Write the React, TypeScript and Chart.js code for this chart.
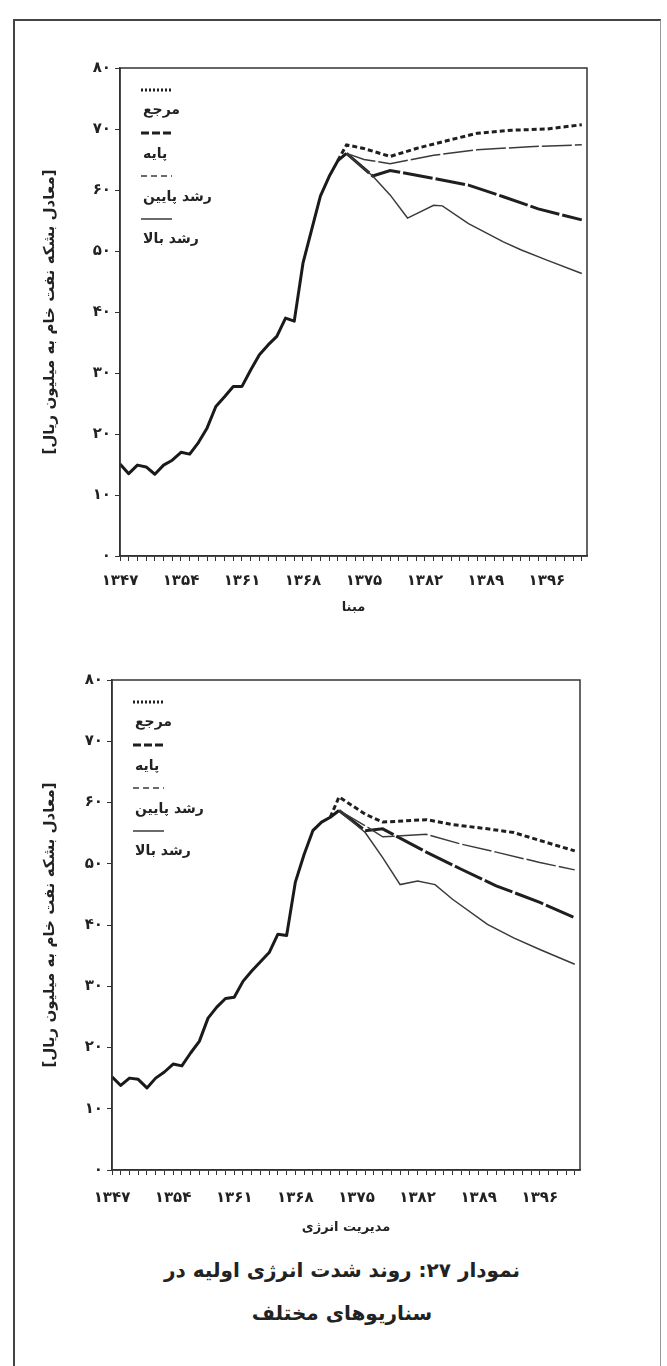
import React, { useEffect, useRef } from 'react';
import { Chart, registerables } from 'chart.js';

Chart.register(...registerables);

// ---------------- data ----------------
const historyYears = [1347, 1348, 1349, 1350, 1351, 1352, 1353, 1354, 1355, 1356, 1357, 1358, 1359, 1360, 1361, 1362, 1363, 1364, 1365, 1366, 1367, 1368, 1369, 1370, 1371, 1372, 1373];

// chart 1: مبنا
const topHistory = [15.1, 13.5, 14.9, 14.6, 13.4, 14.9, 15.7, 17.0, 16.7, 18.6, 21.0, 24.5, 26.1, 27.8, 27.8, 30.5, 33.0, 34.6, 36.0, 39.0, 38.5, 48.0, 53.5, 59.0, 62.2, 64.8, 66.0];
const topRefYears = [1372, 1373, 1375, 1378, 1381, 1384, 1388, 1392, 1396, 1400];
const topRef = [64.8, 67.4, 66.8, 65.5, 66.8, 67.9, 69.3, 69.8, 70.0, 70.7];
const topLowYears = [1373, 1375, 1378, 1383, 1388, 1394, 1400];
const topLow = [66.0, 65.0, 64.3, 65.7, 66.6, 67.1, 67.4];
const topBaseYears = [1373, 1376, 1378, 1383, 1387, 1391, 1395, 1400];
const topBase = [66.0, 62.3, 63.2, 61.9, 60.8, 58.9, 56.9, 55.1];
const topHighYears = [1373, 1376, 1378, 1380, 1383, 1384, 1387, 1391, 1393, 1396, 1400];
const topHigh = [66.0, 62.3, 59.2, 55.4, 57.5, 57.4, 54.5, 51.5, 50.2, 48.5, 46.3];

// chart 2: مدیریت انرژی
const bottomHistory = [15.2, 13.8, 15.0, 14.8, 13.4, 15.0, 16.0, 17.3, 17.0, 19.1, 21.0, 24.8, 26.6, 28.0, 28.2, 30.8, 32.5, 34.0, 35.5, 38.5, 38.3, 47.0, 51.5, 55.4, 56.8, 57.6, 58.7];
const bottomRefYears = [1372, 1373, 1376, 1378, 1383, 1386, 1390, 1393, 1396, 1400];
const bottomRef = [57.6, 60.9, 58.1, 56.8, 57.2, 56.4, 55.7, 55.1, 53.8, 52.1];
const bottomLowYears = [1373, 1376, 1378, 1383, 1387, 1391, 1396, 1400];
const bottomLow = [58.7, 56.2, 54.4, 54.8, 53.2, 51.9, 50.2, 49.0];
const bottomBaseYears = [1373, 1376, 1378, 1383, 1387, 1391, 1396, 1400];
const bottomBase = [58.7, 55.4, 55.7, 51.9, 49.1, 46.4, 43.7, 41.2];
const bottomHighYears = [1373, 1376, 1378, 1380, 1382, 1384, 1386, 1390, 1393, 1396, 1400];
const bottomHigh = [58.7, 55.1, 51.0, 46.6, 47.2, 46.6, 44.2, 40.1, 37.9, 36.0, 33.6];

const xLabelYears = [1347, 1354, 1361, 1368, 1375, 1382, 1389, 1396];
const xFirstYear = 1347;
const xLastYear = 1400;
const legendLabels = ['مرجع', 'پایه', 'رشد پایین', 'رشد بالا'];
const yTitle = '[معادل بشکه نفت خام به میلیون ریال]';
const topXTitle = 'مبنا';
const bottomXTitle = 'مدیریت انرژی';
const captionLine1 = 'نمودار ۲۷: روند شدت انرژی اولیه در';
const captionLine2 = 'سناریوهای مختلف';

// ---------------- helpers ----------------
const FA = '۰۱۲۳۴۵۶۷۸۹';
const fa = (v: number | string) => String(v).replace(/[0-9]/g, (d) => FA[+d]);
const pts = (xs: number[], ys: number[]) => xs.map((x, i) => ({ x, y: ys[i] }));
const FONT = '"DejaVu Sans", sans-serif';
const INK = '#222';

const framePlugin = {
  id: 'frame',
  afterDraw(chart: any) {
    const { ctx, chartArea: a } = chart;
    ctx.save();
    ctx.strokeStyle = '#333';
    ctx.lineWidth = 1.5;
    ctx.strokeRect(a.left, a.top, a.right - a.left, a.bottom - a.top);
    ctx.restore();
  },
};

const legendPlugin = {
  id: 'faLegend',
  afterDraw(chart: any, _args: any, opts: any) {
    const { ctx, chartArea } = chart;
    const x0 = chartArea.left + opts.dx;
    ctx.save();
    opts.items.forEach((it: any, i: number) => {
      const ds = chart.data.datasets.find((d: any) => d.label === it.label);
      const ys = chartArea.top + opts.sampleY[i];
      ctx.beginPath();
      ctx.setLineDash(it.dash || []);
      ctx.lineWidth = ds.borderWidth;
      ctx.strokeStyle = ds.borderColor;
      ctx.moveTo(x0, ys);
      ctx.lineTo(x0 + opts.sampleW, ys);
      ctx.stroke();
      ctx.setLineDash([]);
      ctx.font = `bold 14px ${FONT}`;
      ctx.fillStyle = INK;
      ctx.textAlign = 'left';
      ctx.textBaseline = 'middle';
      ctx.fillText(it.label, x0 + 2, chartArea.top + opts.textY[i]);
    });
    ctx.restore();
  },
};

type PanelProps = {
  top: number;
  height: number;
  plotTop: number;
  plotBottom: number;
  plotLeft: number;
  plotRight: number;
  xAxisH: number;
  xLabelPad: number;
  history: number[];
  refYears: number[]; refVals: number[];
  lowYears: number[]; lowVals: number[];
  baseYears: number[]; baseVals: number[];
  highYears: number[]; highVals: number[];
  xTitle: string;
};

function Panel(p: PanelProps) {
  const canvasRef = useRef<HTMLCanvasElement>(null);
  useEffect(() => {
    const W = 667;
    const tickFont = { family: FONT, size: 15, weight: 'bold' as const };
    const tickYears: number[] = [];
    for (let y = xFirstYear; y <= xLastYear; y++) tickYears.push(y);
    const chart = new Chart(canvasRef.current as HTMLCanvasElement, {
      type: 'line',
      data: {
        datasets: [
          { label: 'رشد بالا', data: pts(p.highYears, p.highVals), borderColor: '#3a3a3a', borderWidth: 1.5, pointRadius: 0 },
          { label: 'رشد پایین', data: pts(p.lowYears, p.lowVals), borderColor: '#3a3a3a', borderWidth: 1.5, borderDash: [30, 3], pointRadius: 0 },
          { label: 'پایه', data: pts(p.baseYears, p.baseVals), borderColor: '#1f1f1f', borderWidth: 3, borderDash: [30, 3], pointRadius: 0 },
          { label: 'مرجع', data: pts(p.refYears, p.refVals), borderColor: '#1f1f1f', borderWidth: 3, borderDash: [5, 3], pointRadius: 0 },
          { label: 'history', data: pts(historyYears, p.history), borderColor: '#1a1a1a', borderWidth: 3, pointRadius: 0, borderJoinStyle: 'round' },
        ],
      },
      options: {
        animation: false,
        responsive: false,
        devicePixelRatio: 1,
        layout: {
          padding: { left: 0, top: p.plotTop, right: W - p.plotRight, bottom: p.height - p.plotBottom - p.xAxisH },
        },
        plugins: {
          legend: { display: false },
          tooltip: { enabled: false },
          faLegend: {
            dx: 21,
            sampleW: 31,
            sampleY: [22, 65, 108, 151],
            textY: [42, 86, 129, 171],
            items: [
              { label: legendLabels[0], dash: [2, 2] },
              { label: legendLabels[1], dash: [8, 3] },
              { label: legendLabels[2], dash: [6, 4] },
              { label: legendLabels[3], dash: [] },
            ],
          },
        } as any,
        scales: {
          x: {
            type: 'linear',
            min: xFirstYear,
            max: xLastYear + 0.6,
            afterBuildTicks: (s: any) => { s.ticks = tickYears.map((v) => ({ value: v })); },
            afterFit: (s: any) => { s.height = p.xAxisH; },
            ticks: {
              autoSkip: false, maxRotation: 0, minRotation: 0, padding: p.xLabelPad,
              font: tickFont, color: INK,
              callback: (v: any) => (xLabelYears.includes(Number(v)) ? fa(v) : ''),
            },
            grid: { drawOnChartArea: false, drawTicks: true, tickLength: 5, color: '#333', lineWidth: 1 },
            border: { display: true, color: '#333', width: 1.5 },
            title: { display: true, text: p.xTitle, font: { family: FONT, size: 13, weight: 'bold' }, color: INK, padding: { top: 0, bottom: 4 } },
          },
          y: {
            min: 0,
            max: 80,
            afterFit: (s: any) => { s.width = p.plotLeft; },
            ticks: { stepSize: 10, padding: 4, font: tickFont, color: INK, callback: (v: any) => fa(v) },
            grid: { drawOnChartArea: false, drawTicks: true, tickLength: 5, color: '#333', lineWidth: 1 },
            border: { display: true, color: '#333', width: 1.5 },
            title: { display: true, text: yTitle, font: { family: FONT, size: 15, weight: 'bold' }, color: INK, padding: { top: 41, bottom: 0 } },
          },
        },
      } as any,
      plugins: [framePlugin, legendPlugin],
    });
    return () => chart.destroy();
  }, []);
  return (
    <canvas
      ref={canvasRef}
      width={667}
      height={p.height}
      style={{ position: 'absolute', left: 0, top: p.top, width: 667, height: p.height }}
    />
  );
}

export default function App() {
  return (
    <div style={{ position: 'absolute', left: 0, top: 0, width: 667, height: 1366, overflow: 'hidden', background: '#fff' }}>
      <div
        style={{
          position: 'absolute', left: 13, top: 19, width: 648, height: 1400,
          borderTop: '2px solid #444', borderLeft: '2px solid #444', borderRight: '1px solid #999',
          boxSizing: 'border-box',
        }}
      />
      <Panel
        top={0} height={630} plotTop={68} plotBottom={556} plotLeft={120} plotRight={587}
        xAxisH={63} xLabelPad={11}
        history={topHistory}
        refYears={topRefYears} refVals={topRef}
        lowYears={topLowYears} lowVals={topLow}
        baseYears={topBaseYears} baseVals={topBase}
        highYears={topHighYears} highVals={topHigh}
        xTitle={topXTitle}
      />
      <Panel
        top={630} height={620} plotTop={50} plotBottom={540} plotLeft={112} plotRight={580}
        xAxisH={69} xLabelPad={14}
        history={bottomHistory}
        refYears={bottomRefYears} refVals={bottomRef}
        lowYears={bottomLowYears} lowVals={bottomLow}
        baseYears={bottomBaseYears} baseVals={bottomBase}
        highYears={bottomHighYears} highVals={bottomHigh}
        xTitle={bottomXTitle}
      />
      <div dir="rtl" style={{ position: 'absolute', left: 92, width: 500, top: 1257, textAlign: 'center', font: `bold 20px ${FONT}`, lineHeight: '26px', color: INK }}>
        {captionLine1}
      </div>
      <div dir="rtl" style={{ position: 'absolute', left: 92, width: 500, top: 1300, textAlign: 'center', font: `bold 20px ${FONT}`, lineHeight: '26px', color: INK }}>
        {captionLine2}
      </div>
    </div>
  );
}
